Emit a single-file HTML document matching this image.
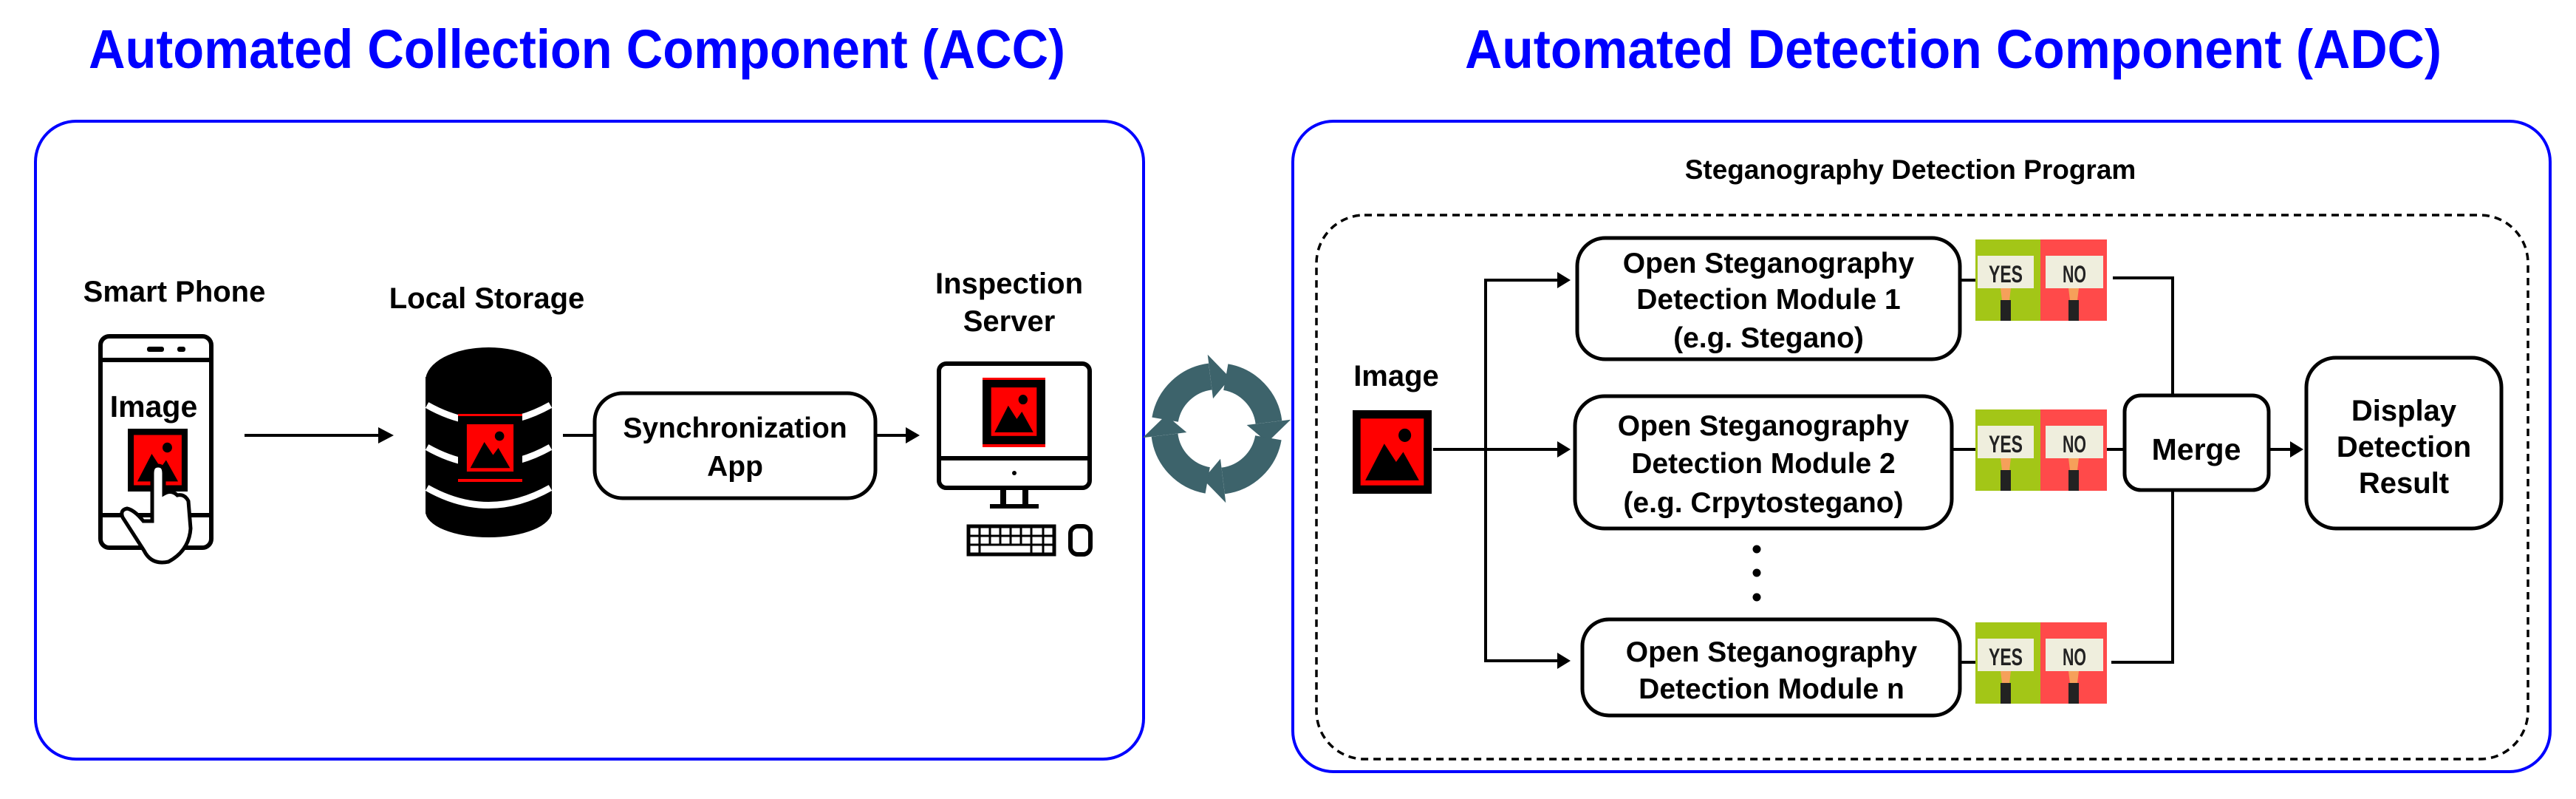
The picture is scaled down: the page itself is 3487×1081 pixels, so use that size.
<!DOCTYPE html>
<html><head><meta charset="utf-8"><style>
html,body{margin:0;padding:0;background:#fff}
svg{display:block}
text{font-family:"Liberation Sans",sans-serif;font-weight:bold}
</style></head><body>
<svg width="3487" height="1081" viewBox="0 0 3487 1081" xmlns="http://www.w3.org/2000/svg">
<defs>
<g id="pic">
<rect x="0" y="0" width="100" height="100" fill="#000"/>
<rect x="10" y="10" width="80" height="80" fill="#f00"/>
<polygon points="16,84 40,40 55,62 64,50 84,84" fill="#000"/>
<circle cx="66" cy="30" r="8" fill="#000"/>
</g>
<g id="sign">
<rect x="0" y="0" width="88" height="110" fill="#a3c617"/>
<rect x="88" y="0" width="90" height="110" fill="#ff4a4a"/>
<rect x="3" y="22" width="76" height="44" fill="#efeedd"/>
<rect x="95" y="22" width="78" height="44" fill="#efeedd"/>
<text x="41" y="58" font-size="32" text-anchor="middle" fill="#222" textLength="46" lengthAdjust="spacingAndGlyphs">YES</text>
<text x="134" y="58" font-size="32" text-anchor="middle" fill="#222" textLength="32" lengthAdjust="spacingAndGlyphs">NO</text>
<polygon points="34,66 48,66 46,82 36,82" fill="#f6a05a"/>
<polygon points="126,66 140,66 138,82 128,82" fill="#f6a05a"/>
<rect x="34" y="82" width="14" height="28" fill="#222"/>
<rect x="126" y="82" width="14" height="28" fill="#222"/>
</g>
<g id="cyc">
<path d="M1577.1,567.7 A71,71 0 0 1 1638.3,509.5" fill="none" stroke="#3d636b" stroke-width="36"/>
<polygon points="1642,539.3 1634.7,479.8 1665.4,511.4" fill="#3d636b"/>
</g>
</defs>

<text x="781" y="92" font-size="74" fill="#0000ff" text-anchor="middle" textLength="1322" lengthAdjust="spacingAndGlyphs">Automated Collection Component (ACC)</text>
<text x="2644" y="92" font-size="74" fill="#0000ff" text-anchor="middle" textLength="1322" lengthAdjust="spacingAndGlyphs">Automated Detection Component (ADC)</text>

<rect x="48" y="164" width="1500" height="863" rx="55" fill="none" stroke="#0000ff" stroke-width="4"/>
<rect x="1750" y="164" width="1702" height="880" rx="55" fill="none" stroke="#0000ff" stroke-width="4"/>

<text x="236" y="408" font-size="40" text-anchor="middle">Smart Phone</text>
<text x="659" y="417" font-size="40" text-anchor="middle">Local Storage</text>
<text x="1366" y="397" font-size="40" text-anchor="middle">Inspection</text>
<text x="1366" y="448" font-size="40" text-anchor="middle">Server</text>

<rect x="136" y="455" width="150" height="286" rx="12" fill="#fff" stroke="#000" stroke-width="6"/>
<line x1="136" y1="487" x2="286" y2="487" stroke="#000" stroke-width="6"/>
<line x1="136" y1="697" x2="286" y2="697" stroke="#000" stroke-width="6"/>
<rect x="199" y="469" width="23" height="7" rx="3" fill="#000"/>
<rect x="240" y="469" width="11" height="7" rx="3" fill="#000"/>
<text x="208" y="564" font-size="41" text-anchor="middle">Image</text>
<use href="#pic" transform="translate(173,580) scale(0.81,0.85)"/>
<path d="M206,680 L206,640 Q206,630 214,630 Q222,630 222,640 L222,668 Q232,662 240,670 Q250,668 255,678 L258,715 Q256,745 228,760 Q205,765 195,745 L166,700 Q162,690 172,688 Q182,690 194,705 L206,705 Z" fill="#fff" stroke="#000" stroke-width="5"/>

<line x1="331" y1="589" x2="520" y2="589" stroke="#000" stroke-width="4"/>
<polygon points="533,589 512,578 512,600" fill="#000"/>

<rect x="576" y="510" width="171" height="185" fill="#000"/>
<ellipse cx="661.5" cy="515" rx="85.5" ry="45" fill="#000"/>
<ellipse cx="661.5" cy="692" rx="85.5" ry="35" fill="#000"/>
<path d="M578,548 Q661,595 745,548" fill="none" stroke="#fff" stroke-width="9"/>
<path d="M578,605 Q661,652 745,605" fill="none" stroke="#fff" stroke-width="9"/>
<path d="M578,660 Q661,707 745,660" fill="none" stroke="#fff" stroke-width="9"/>
<rect x="620" y="560" width="87" height="92" fill="#000"/>
<rect x="620" y="560" width="87" height="3" fill="#f00"/>
<rect x="620" y="648" width="87" height="4" fill="#f00"/>
<use href="#pic" transform="translate(624,566) scale(0.79,0.8)"/>

<line x1="762" y1="589" x2="803" y2="589" stroke="#000" stroke-width="4"/>
<rect x="805" y="532" width="380" height="142" rx="38" fill="#fff" stroke="#000" stroke-width="5"/>
<text x="995" y="592" font-size="39" text-anchor="middle">Synchronization</text>
<text x="995" y="644" font-size="39" text-anchor="middle">App</text>
<line x1="1187" y1="589" x2="1232" y2="589" stroke="#000" stroke-width="4"/>
<polygon points="1245,589 1226,578 1226,600" fill="#000"/>

<rect x="1271" y="492" width="204" height="168" rx="10" fill="#fff" stroke="#000" stroke-width="6"/>
<line x1="1271" y1="620" x2="1475" y2="620" stroke="#000" stroke-width="6"/>
<circle cx="1373" cy="640" r="3" fill="#000"/>
<rect x="1354" y="660" width="8" height="24" fill="#000"/>
<rect x="1384" y="660" width="8" height="24" fill="#000"/>
<rect x="1340" y="682" width="66" height="6" fill="#000"/>
<rect x="1330" y="511" width="85" height="94" fill="#000"/>
<rect x="1330" y="511" width="85" height="3" fill="#f00"/>
<rect x="1330" y="601" width="85" height="4" fill="#f00"/>
<use href="#pic" transform="translate(1334,516) scale(0.77,0.82)"/>
<rect x="1311" y="712" width="116" height="38" fill="#fff" stroke="#000" stroke-width="5"/>
<g stroke="#000" stroke-width="3">
<line x1="1311" y1="725" x2="1427" y2="725"/><line x1="1311" y1="737" x2="1427" y2="737"/>
<line x1="1326" y1="712" x2="1326" y2="750"/><line x1="1340" y1="712" x2="1340" y2="737"/><line x1="1354" y1="712" x2="1354" y2="737"/><line x1="1368" y1="712" x2="1368" y2="737"/><line x1="1382" y1="712" x2="1382" y2="737"/><line x1="1396" y1="712" x2="1396" y2="750"/><line x1="1412" y1="712" x2="1412" y2="750"/>
</g>
<rect x="1449" y="712" width="27" height="38" rx="10" fill="#fff" stroke="#000" stroke-width="6"/>

<use href="#cyc"/>
<use href="#cyc" transform="rotate(90 1647 580)"/>
<use href="#cyc" transform="rotate(180 1647 580)"/>
<use href="#cyc" transform="rotate(270 1647 580)"/>

<text x="2586" y="242" font-size="37" text-anchor="middle">Steganography Detection Program</text>
<rect x="1782" y="291" width="1640" height="736" rx="65" fill="none" stroke="#000" stroke-width="3.5" stroke-dasharray="10,7"/>
<text x="1890" y="522" font-size="40" text-anchor="middle">Image</text>
<use href="#pic" transform="translate(1831,555) scale(1.07,1.13)"/>

<line x1="1940" y1="608" x2="2112" y2="608" stroke="#000" stroke-width="4"/>
<polygon points="2126,608 2108,597 2108,619" fill="#000"/>
<polyline points="2112,379 2011,379 2011,894 2112,894" fill="none" stroke="#000" stroke-width="4"/>
<polygon points="2126,379 2108,368 2108,390" fill="#000"/>
<polygon points="2126,894 2108,883 2108,905" fill="#000"/>

<rect x="2135" y="322" width="518" height="164" rx="38" fill="#fff" stroke="#000" stroke-width="5"/>
<text x="2394" y="369" font-size="39" text-anchor="middle">Open Steganography</text>
<text x="2394" y="418" font-size="39" text-anchor="middle">Detection Module 1</text>
<text x="2394" y="470" font-size="39" text-anchor="middle">(e.g. Stegano)</text>

<rect x="2132" y="536" width="510" height="179" rx="40" fill="#fff" stroke="#000" stroke-width="5"/>
<text x="2387" y="589" font-size="39" text-anchor="middle">Open Steganography</text>
<text x="2387" y="640" font-size="39" text-anchor="middle">Detection Module 2</text>
<text x="2387" y="693" font-size="39" text-anchor="middle">(e.g. Crpytostegano)</text>

<circle cx="2378" cy="743" r="5.5" fill="#000"/>
<circle cx="2378" cy="775" r="5.5" fill="#000"/>
<circle cx="2378" cy="808" r="5.5" fill="#000"/>

<rect x="2142" y="838" width="511" height="130" rx="36" fill="#fff" stroke="#000" stroke-width="5"/>
<text x="2398" y="895" font-size="39" text-anchor="middle">Open Steganography</text>
<text x="2398" y="945" font-size="39" text-anchor="middle">Detection Module n</text>

<line x1="2653" y1="379" x2="2674" y2="379" stroke="#000" stroke-width="4"/>
<line x1="2642" y1="608" x2="2674" y2="608" stroke="#000" stroke-width="4"/>
<line x1="2653" y1="896" x2="2674" y2="896" stroke="#000" stroke-width="4"/>
<use href="#sign" transform="translate(2674,324)"/>
<use href="#sign" transform="translate(2674,554)"/>
<use href="#sign" transform="translate(2674,842)"/>

<polyline points="2860,376 2941,376 2941,534" fill="none" stroke="#000" stroke-width="4"/>
<polyline points="2858,896 2941,896 2941,663" fill="none" stroke="#000" stroke-width="4"/>
<line x1="2852" y1="608" x2="2876" y2="608" stroke="#000" stroke-width="4"/>
<rect x="2876" y="535" width="195" height="128" rx="22" fill="#fff" stroke="#000" stroke-width="5"/>
<text x="2973" y="622" font-size="41" text-anchor="middle">Merge</text>
<line x1="3071" y1="608" x2="3104" y2="608" stroke="#000" stroke-width="4"/>
<polygon points="3118,608 3100,597 3100,619" fill="#000"/>
<rect x="3122" y="484" width="264" height="231" rx="40" fill="#fff" stroke="#000" stroke-width="5"/>
<text x="3254" y="569" font-size="40" text-anchor="middle">Display</text>
<text x="3254" y="618" font-size="40" text-anchor="middle">Detection</text>
<text x="3254" y="667" font-size="40" text-anchor="middle">Result</text>
</svg>
</body></html>
